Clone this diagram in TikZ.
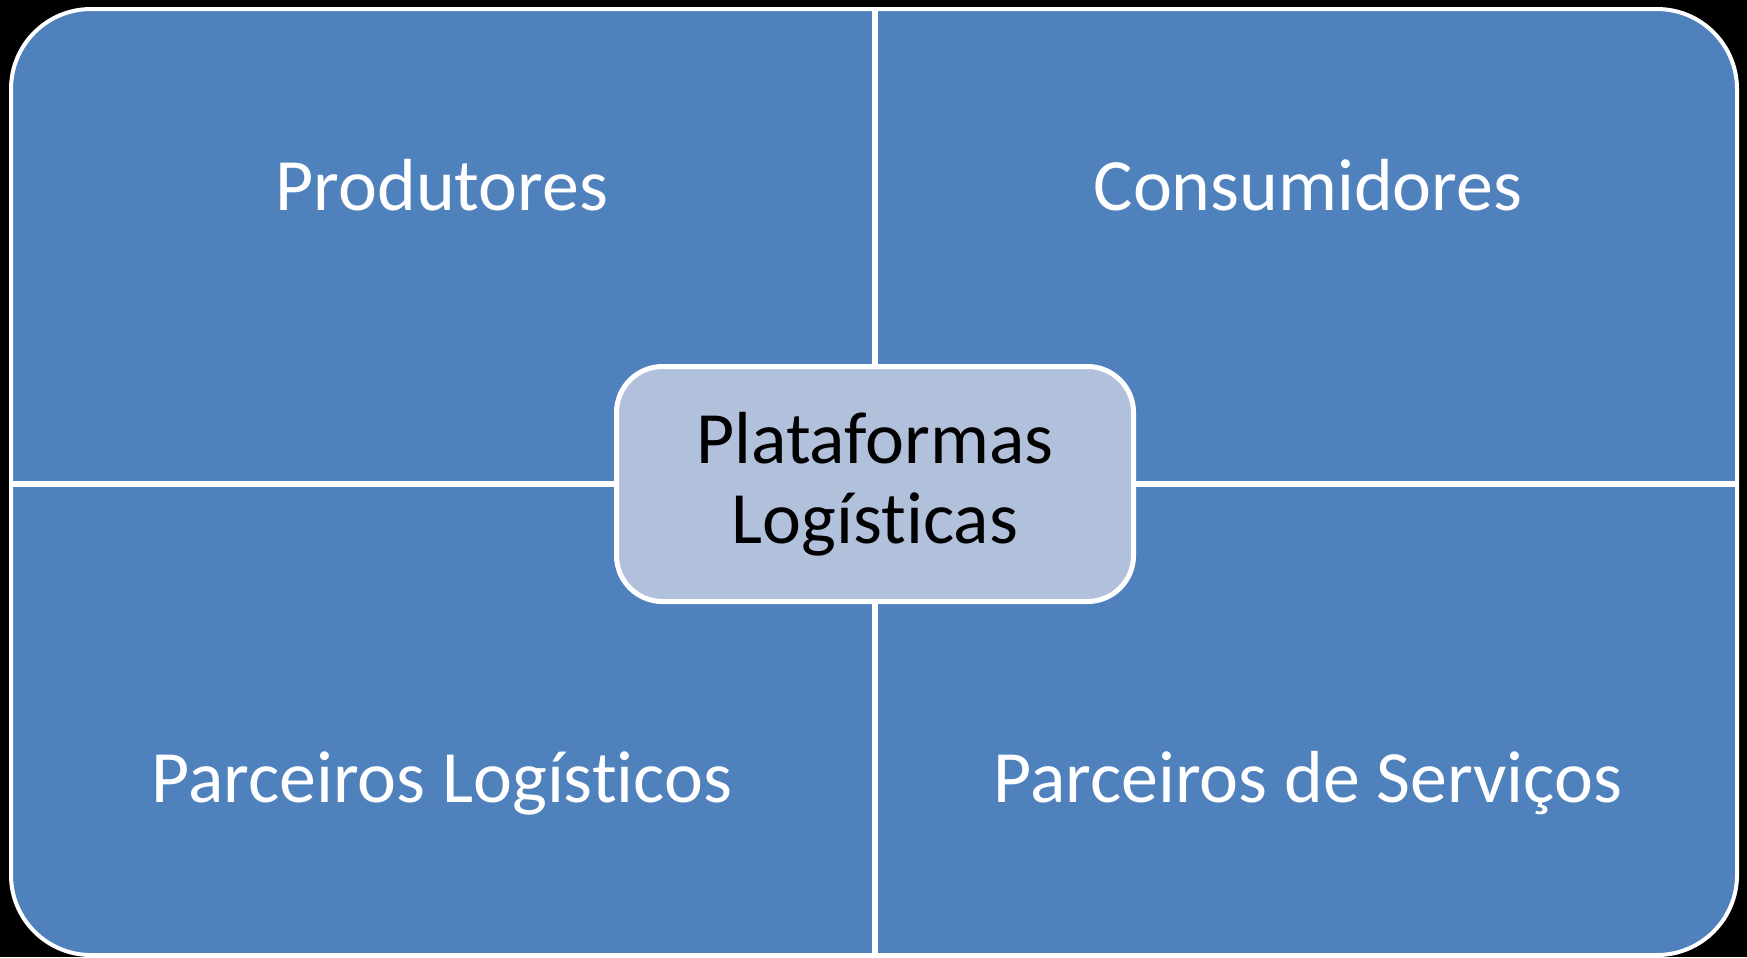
\documentclass[tikz,border=0pt]{standalone}
\usepackage{fontspec}
\setmainfont{Carlito}[Ligatures=NoCommon]
\definecolor{matblue}{RGB}{79,129,189}
\definecolor{platblue}{RGB}{178,193,219}
\begin{document}
\begin{tikzpicture}[
    quad/.style={text=white,anchor=base,font=\fontsize{21}{25}\selectfont},
    sep/.style={white,line width=0.06cm}]
  \fill[black] (0,0) rectangle (17.47,-9.57);
  \useasboundingbox (0,0) rectangle (17.47,-9.57);
  % outer frame and centre box
  \node[draw=white,line width=0.04cm,fill=matblue,rounded corners=0.8cm,
        minimum width=17.26cm,minimum height=9.46cm,inner sep=0pt] (frame) at (8.74,-4.82) {};
  \node[draw=white,line width=0.05cm,fill=platblue,rounded corners=0.46cm,
        minimum width=5.17cm,minimum height=2.35cm,inner sep=0pt,align=center,
        font=\fontsize{21}{22.8}\selectfont] (plat) at (8.75,-4.84) {Plataformas\\Logísticas};
  \draw[sep] (plat.north |- frame.north) -- (plat.north);
  \draw[sep] (plat.south) -- (plat.south |- frame.south);
  \draw[sep] (frame.west |- plat.west) -- (plat.west);
  \draw[sep] (plat.east) -- (frame.east |- plat.east);
  % quadrant labels
  \node[quad] (prod) at (4.42,-2.10) {Produtores};
  \node[quad] (cons) at (13.08,-2.10) {Consumidores};
  \node[quad] (plog) at (4.42,-8.02) {Parceiros Logísticos};
  \node[quad] (pserv) at (13.08,-8.02) {Parceiros de Serviços};
\end{tikzpicture}
\end{document}
